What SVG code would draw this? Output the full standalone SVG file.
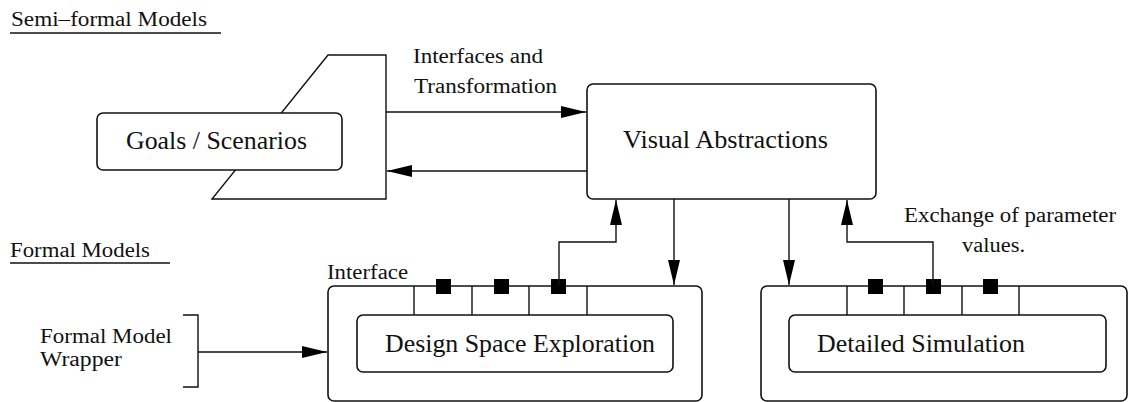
<svg xmlns="http://www.w3.org/2000/svg" width="1128" height="402" viewBox="0 0 1128 402">
<defs>
<style>
.ln{fill:none;stroke:#111;stroke-width:1.4}
.bx{fill:#fff;stroke:#111;stroke-width:1.6}
.big{font-family:'Liberation Serif','DejaVu Serif','Times New Roman',serif;font-size:25px;fill:#111}
.sm{font-family:'Liberation Serif','DejaVu Serif','Times New Roman',serif;font-size:20px;fill:#111}
.sq{fill:#000}
</style>
<marker id="ah" markerUnits="userSpaceOnUse" markerWidth="26" markerHeight="14" refX="25" refY="7" orient="auto">
<path d="M0,1 L25,7 L0,13 Z" fill="#000"/>
</marker>
</defs>
<rect width="1128" height="402" fill="#fff"/>

<g id="headings">
<text class="sm" x="11" y="26" textLength="196" lengthAdjust="spacingAndGlyphs">Semi–formal Models</text>
<line class="ln" x1="10" y1="33" x2="221" y2="33"/>
<text class="sm" x="10" y="257" textLength="140" lengthAdjust="spacingAndGlyphs">Formal Models</text>
<line class="ln" x1="10" y1="263" x2="170" y2="263"/>
</g>

<g id="goals">
<polygon class="ln" points="328,55 386,55 386,199 212,199"/>
<rect class="bx" x="97" y="113" width="245" height="57" rx="6"/>
<text class="big" x="126" y="149" textLength="181" lengthAdjust="spacingAndGlyphs">Goals / Scenarios</text>
</g>

<g id="visual">
<rect class="bx" x="587" y="84" width="289" height="115" rx="6"/>
<text class="big" x="623" y="148" textLength="205" lengthAdjust="spacingAndGlyphs">Visual Abstractions</text>
</g>

<g id="dse">
<rect class="bx" x="328" y="286" width="374" height="115" rx="6"/>
<rect class="bx" x="357" y="315" width="316" height="57" rx="6"/>
<line class="ln" x1="414" y1="286" x2="414" y2="315"/>
<line class="ln" x1="472" y1="286" x2="472" y2="315"/>
<line class="ln" x1="529" y1="286" x2="529" y2="315"/>
<line class="ln" x1="587" y1="286" x2="587" y2="315"/>
<rect class="sq" x="436" y="279" width="15" height="15"/>
<rect class="sq" x="494" y="279" width="15" height="15"/>
<rect class="sq" x="551" y="279" width="15" height="15"/>
<text class="sm" x="327" y="279" textLength="81" lengthAdjust="spacingAndGlyphs">Interface</text>
<text class="big" x="385" y="352" textLength="270" lengthAdjust="spacingAndGlyphs">Design Space Exploration</text>
</g>

<g id="sim">
<rect class="bx" x="761" y="286" width="366" height="115" rx="6"/>
<rect class="bx" x="789" y="315" width="317" height="57" rx="6"/>
<line class="ln" x1="847" y1="286" x2="847" y2="315"/>
<line class="ln" x1="904" y1="286" x2="904" y2="315"/>
<line class="ln" x1="962" y1="286" x2="962" y2="315"/>
<line class="ln" x1="1019" y1="286" x2="1019" y2="315"/>
<rect class="sq" x="868" y="279" width="15" height="15"/>
<rect class="sq" x="926" y="279" width="15" height="15"/>
<rect class="sq" x="983" y="279" width="15" height="15"/>
<text class="big" x="817" y="352" textLength="208" lengthAdjust="spacingAndGlyphs">Detailed Simulation</text>
</g>

<g id="wrapper">
<polyline class="ln" points="183,315 198,315 198,387 183,387"/>
<text class="sm" x="40" y="343" textLength="132" lengthAdjust="spacingAndGlyphs">Formal Model</text>
<text class="sm" x="40" y="366" textLength="82" lengthAdjust="spacingAndGlyphs">Wrapper</text>
</g>

<g id="labels">
<text class="sm" x="413" y="63" textLength="130" lengthAdjust="spacingAndGlyphs">Interfaces and</text>
<text class="sm" x="414" y="93" textLength="143" lengthAdjust="spacingAndGlyphs">Transformation</text>
<text class="sm" x="904" y="222" textLength="212" lengthAdjust="spacingAndGlyphs">Exchange of parameter</text>
<text class="sm" x="962" y="252" textLength="63" lengthAdjust="spacingAndGlyphs">values.</text>
</g>

<g id="connectors">
<line class="ln" x1="386" y1="112" x2="586" y2="112" marker-end="url(#ah)"/>
<line class="ln" x1="587" y1="171" x2="387" y2="171" marker-end="url(#ah)"/>
<polyline class="ln" points="559,286 559,242 616,242 616,200" marker-end="url(#ah)"/>
<line class="ln" x1="674" y1="199" x2="674" y2="285" marker-end="url(#ah)"/>
<line class="ln" x1="789" y1="199" x2="789" y2="285" marker-end="url(#ah)"/>
<polyline class="ln" points="933,286 933,242 847,242 847,200" marker-end="url(#ah)"/>
<line class="ln" x1="198" y1="352" x2="327" y2="352" marker-end="url(#ah)"/>
</g>
</svg>
